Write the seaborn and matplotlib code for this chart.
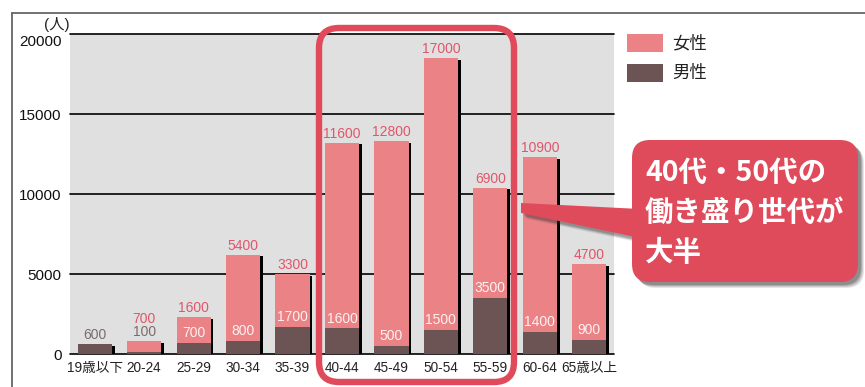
import matplotlib
matplotlib.use('Agg')
import matplotlib.pyplot as plt
import matplotlib.patheffects as pe
from matplotlib.patches import FancyBboxPatch, Polygon, Rectangle
from matplotlib.lines import Line2D
from matplotlib.transforms import IdentityTransform, ScaledTranslation
import seaborn as sns
import pandas as pd

# ---- data ----
categories = ['19歳以下', '20-24', '25-29', '30-34', '35-39', '40-44',
              '45-49', '50-54', '55-59', '60-64', '65歳以上']
female = [0, 700, 1600, 5400, 3300, 11600, 12800, 17000, 6900, 10900, 4700]
male = [600, 100, 700, 800, 1700, 1600, 500, 1500, 3500, 1400, 900]
yticks = [0, 5000, 10000, 15000, 20000]
legend_labels = ['女性', '男性']
callout_lines = ['40代・50代の', '働き盛り世代が', '大半']
unit_label = '(人)'

FEMALE = '#eb8285'
MALE = '#6b5453'
RED = '#e04b5b'
RED_TEXT = '#e0566a'
GRAY_TEXT = '#7b6c6c'

sns.set_theme(style='white')
plt.rcParams['font.family'] = ['Liberation Sans', 'Noto Sans CJK JP', 'DejaVu Sans']

W, H = 865, 387
fig = plt.figure(figsize=(W / 100, H / 100), dpi=100)
fig.patch.set_facecolor('white')


def px(x, y):
    return (x, H - y)


ax = fig.add_axes([70 / W, 1 - 354 / H, (614 - 70) / W, (354 - 34) / H])
ax.set_facecolor('#e0e0e0')

df = pd.DataFrame({'cat': categories, 'female': female, 'male': male})
df['total'] = df['female'] + df['male']

sns.barplot(data=df, x='cat', y='total', color=FEMALE, saturation=1,
            width=0.69, ax=ax, zorder=3, linewidth=0, edgecolor='none')
for p in ax.patches:
    p.set_path_effects([pe.SimplePatchShadow(offset=(2, -1.2), shadow_rgbFace='black', alpha=1),
                        pe.Normal()])
sns.barplot(data=df, x='cat', y='male', color=MALE, saturation=1,
            width=0.69, ax=ax, zorder=4, linewidth=0, edgecolor='none')

ax.set_ylim(0, 20000)
ax.set_xlim(-0.5, len(categories) - 0.5)
ax.set_yticks(yticks)
ax.set_yticklabels([str(v) for v in yticks])
ax.set_xlabel('')
ax.set_ylabel('')
ax.yaxis.grid(True, color='black', lw=1.2)
ax.xaxis.grid(False)
ax.set_axisbelow(True)
for gl in ax.get_ygridlines():
    gl.set_clip_on(False)
for s in ax.spines.values():
    s.set_visible(False)
ax.tick_params(axis='y', length=0, pad=6, labelsize=11, labelcolor='#111111')
ax.tick_params(axis='x', length=0, pad=5, labelsize=9.8, labelcolor='#222222')
ytl = ax.get_yticklabels()
ytl[-1].set_transform(ytl[-1].get_transform() + ScaledTranslation(0, -5 / 72, fig.dpi_scale_trans))

# value labels
lab_fs = 10
for i, (f, m) in enumerate(zip(female, male)):
    tot = f + m
    if f == 0:
        ax.annotate(str(m), (i, tot), xytext=(0, 1.5), textcoords='offset points',
                    ha='center', va='bottom', fontsize=lab_fs, color=GRAY_TEXT, zorder=6)
    elif f < 1000:
        ax.annotate(str(m), (i, tot), xytext=(0, 1.5), textcoords='offset points',
                    ha='center', va='bottom', fontsize=lab_fs, color=GRAY_TEXT, zorder=6)
        ax.annotate(str(f), (i, tot), xytext=(0, 11), textcoords='offset points',
                    ha='center', va='bottom', fontsize=lab_fs, color=RED_TEXT, zorder=6)
    else:
        ax.annotate(str(f), (i, tot), xytext=(0, 1.5), textcoords='offset points',
                    ha='center', va='bottom', fontsize=lab_fs, color=RED_TEXT, zorder=6)
        ax.annotate(str(m), (i, m), xytext=(0, 2), textcoords='offset points',
                    ha='center', va='bottom', fontsize=lab_fs, color='#fdf2f2', zorder=6)

# unit label
fig.text(70 / W, 1 - 25 / H, unit_label, ha='right', va='center', fontsize=11, color='#222222')

# outer frame lines
fig.add_artist(Line2D([12 / W, 1], [1 - 13 / H, 1 - 13 / H], transform=fig.transFigure,
                      color='#666666', lw=1.3))
fig.add_artist(Line2D([12 / W, 12 / W], [0, 1 - 13 / H], transform=fig.transFigure,
                      color='#666666', lw=1.3))

# legend
for k, (lab, col) in enumerate(zip(legend_labels, [FEMALE, MALE])):
    y0 = 34 + k * 30
    r = Rectangle(px(627, y0 + 18), 36, 18, transform=IdentityTransform(),
                  facecolor=col, edgecolor='none')
    fig.add_artist(r)
    fig.text(672 / W, 1 - (y0 + 9) / H, lab, ha='left', va='center', fontsize=12.5,
             color='#222222', family=['Noto Sans CJK JP', 'DejaVu Sans'])

# highlight rounded rectangle around 40-59
hl = FancyBboxPatch(px(319, 382), 514 - 319, 382 - 28,
                    boxstyle='round,pad=0,rounding_size=20', transform=IdentityTransform(),
                    facecolor='none', edgecolor=RED, lw=4.6, zorder=10)
fig.add_artist(hl)

# callout soft shadow (layered)
for d, a in [(6, 0.12), (5, 0.15), (4, 0.2), (3, 0.25)]:
    sh = FancyBboxPatch(px(632 + d, 282 + d), 858 - 632, 282 - 140,
                        boxstyle='round,pad=0,rounding_size=18', transform=IdentityTransform(),
                        facecolor='#333333', edgecolor='none', alpha=a, zorder=11)
    fig.add_artist(sh)
    ptr_sh = Polygon([px(521 + d, 203 + d), px(640 + d, 209 + d), px(640 + d, 238 + d),
                      px(521 + d, 213 + d)], closed=True,
                     transform=IdentityTransform(), facecolor='#333333', edgecolor='none',
                     alpha=a * 0.8, zorder=11)
    fig.add_artist(ptr_sh)
# callout box
cb = FancyBboxPatch(px(632, 282), 858 - 632, 282 - 140,
                    boxstyle='round,pad=0,rounding_size=18', transform=IdentityTransform(),
                    facecolor=RED, edgecolor='none', zorder=12)
fig.add_artist(cb)
ptr = Polygon([px(521, 203), px(640, 209), px(640, 238), px(521, 213)], closed=True,
              transform=IdentityTransform(), facecolor=RED, edgecolor='none', zorder=12)
fig.add_artist(ptr)
for j, line in enumerate(callout_lines):
    fig.text(645 / W, 1 - (173 + 40 * j) / H, line, ha='left', va='center',
             fontsize=20.5, fontweight='bold', color='white', zorder=13,
             family=['Noto Sans CJK JP', 'DejaVu Sans'])

fig.savefig('out.png', dpi=100, facecolor='white')
